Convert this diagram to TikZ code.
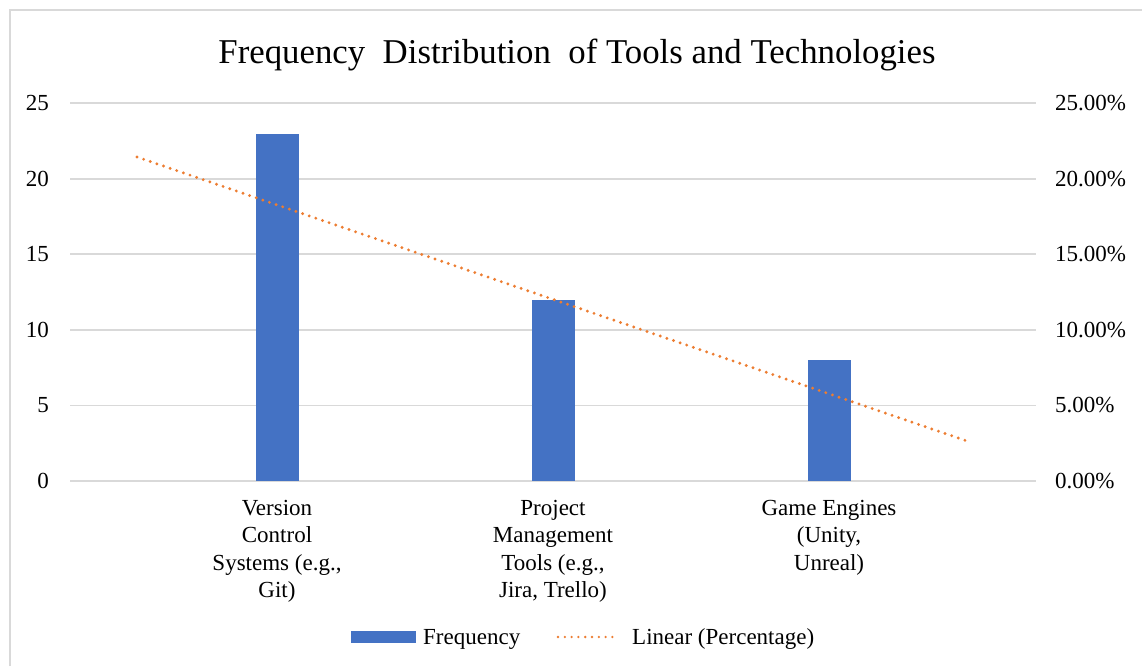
\documentclass[tikz,border=0pt]{standalone}
\usepackage{fontspec}
\setmainfont{Liberation Serif}
\definecolor{barblue}{HTML}{4472C4}
\definecolor{trendorange}{HTML}{ED7D31}
\definecolor{gridgray}{HTML}{D9D9D9}
\definecolor{framegray}{HTML}{D9D9D9}
\tikzset{
  gridline/.style={draw=gridgray, line width=1.8pt},
  bar/.style={fill=barblue, draw=none},
  trend/.style={draw=trendorange, line width=3.2pt, line cap=round, dash pattern=on 0pt off 7pt},
  ticklabel/.style={font=\fontsize{23}{26}\selectfont, inner sep=0pt},
  catlabel/.style={font=\fontsize{23}{27.3}\selectfont, align=center, inner sep=0pt, anchor=north},
  legendtext/.style={font=\fontsize{23}{26}\selectfont, inner sep=0pt, anchor=base west},
}
\begin{document}
\begin{tikzpicture}[x=1pt, y=-1pt]
  \useasboundingbox (0,0) rectangle (1142,666);
  \fill[white] (0,0) rectangle (1142,666);
  % chart frame (only top and left edges fall inside the page)
  \draw[framegray, line width=2pt] (10,666) -- (10,10) -- (1142,10);

  % title
  \node[font=\fontsize{34.8}{40}\selectfont, anchor=base, inner sep=0pt] (title) at (577,64)
    {Frequency\ \ Distribution\ \ of Tools and Technologies};

  % horizontal gridlines with primary and secondary axis labels
  \foreach \v/\p [count=\i] in {0/0.00\%,5/5.00\%,10/10.00\%,15/15.00\%,20/20.00\%,25/25.00\%}{
    \pgfmathsetmacro{\yy}{481-15.12*\v}
    \draw[gridline] (70,\yy) -- (1036,\yy);
    \node[ticklabel, anchor=base east] (yl\i) at (49,\yy+7.5) {\v};
    \node[ticklabel, anchor=base west] (yr\i) at (1055,\yy+7.5) {\p};
  }

  % frequency bars
  \fill[bar] (255.5,481) rectangle (299,133.5);
  \fill[bar] (531.5,481) rectangle (575,299.5);
  \fill[bar] (807.5,481) rectangle (851,360);

  % linear trendline of the percentages
  \coordinate (tstart) at (137,157);
  \coordinate (tend) at (967,441);
  \draw[trend] (tstart) -- (tend);

  % category labels
  \node[catlabel] (c1) at (277,500) {Version\\Control\\Systems (e.g.,\\Git)};
  \node[catlabel] (c2) at (553,500) {Project\\Management\\Tools (e.g.,\\Jira, Trello)};
  \node[catlabel] (c3) at (829,500) {Game Engines\\(Unity,\\Unreal)};

  % legend
  \fill[bar] (351,631) rectangle (416,643);
  \node[legendtext] (lg1) at (423,644) {Frequency};
  \coordinate (ls) at (558,637);
  \coordinate (le) at (619,637);
  \draw[trend, line width=2.6pt, dash pattern=on 0pt off 6.8pt] (ls) -- (le);
  \node[legendtext] (lg2) at (632,644) {Linear (Percentage)};
\end{tikzpicture}
\end{document}
